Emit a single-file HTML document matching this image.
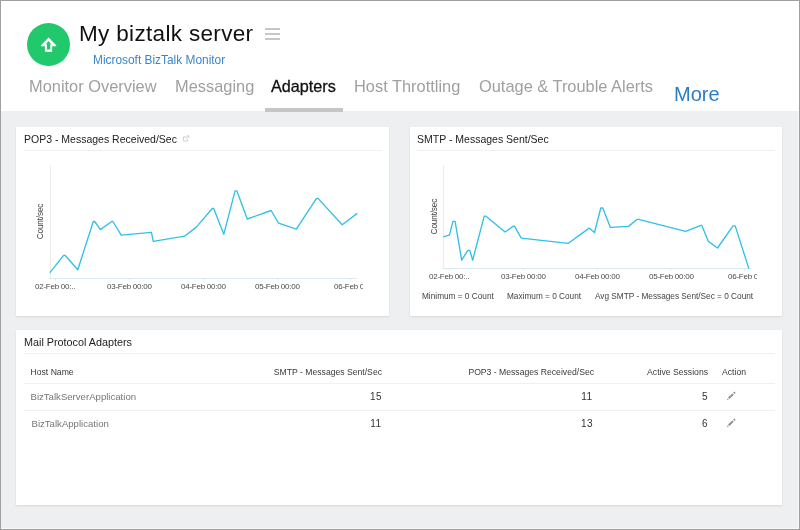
<!DOCTYPE html>
<html>
<head>
<meta charset="utf-8">
<style>
*{box-sizing:border-box;margin:0;padding:0}
html,body{width:800px;height:530px;overflow:hidden;background:#edeff1;font-family:"Liberation Sans",sans-serif;}
body{position:relative}
.abs{position:absolute;white-space:nowrap;line-height:1}
#frame{position:absolute;left:0;top:0;width:800px;height:530px;border:1px solid #a0a0a0;box-shadow:inset -1px -1px 0 rgba(255,255,255,0.55);pointer-events:none;z-index:10}
#hdr{position:absolute;left:0;top:0;width:800px;height:111px;background:#fff}
#circle{position:absolute;left:27px;top:23px;width:43px;height:43.4px;border-radius:50%;background:#22c96c}
#title{left:79px;top:22.6px;font-size:22.5px;color:#111;letter-spacing:0.33px}
#sub{left:93px;top:55px;font-size:11.9px;color:#3a86c8}
.tab{font-size:16.4px;color:#a0a0a0;top:77.5px}
#tabA{color:#111;-webkit-text-stroke:0.3px #111;font-size:16.2px}
#more{left:674px;top:84px;font-size:20px;color:#2e7cc4}
#ubar{position:absolute;left:264.8px;top:108px;width:78.1px;height:3.7px;background:#c5c5c5}
.card{position:absolute;background:#fff;box-shadow:0 1px 2px rgba(0,0,0,0.10)}
.ctitle{font-size:10.5px;color:#222}
.cdiv{position:absolute;height:1px;background:#f0f0f0}
.xl{font-size:8px;color:#4a4a4a;letter-spacing:-0.25px}
.lg{font-size:8.25px;color:#444}
.th{font-size:8.65px;color:#3a3a3a}
.td{font-size:9.6px;color:#777}
.num{font-size:10px;color:#333;letter-spacing:0.4px}
</style>
</head>
<body>
<div id="root" style="position:absolute;left:0;top:0;width:800px;height:530px;will-change:transform">
<div id="hdr"></div>
<div id="circle"></div>
<div id="title" class="abs">My biztalk server</div>
<div class="abs" style="left:264.6px;top:27.8px;width:15.1px;height:2px;background:#c6c6c6"></div>
<div class="abs" style="left:264.6px;top:32.8px;width:15.1px;height:2px;background:#c6c6c6"></div>
<div class="abs" style="left:264.6px;top:37.9px;width:15.1px;height:2px;background:#c6c6c6"></div>
<div id="sub" class="abs">Microsoft BizTalk Monitor</div>
<div class="abs tab" style="left:29px">Monitor Overview</div>
<div class="abs tab" style="left:175px">Messaging</div>
<div class="abs tab" id="tabA" style="left:271px">Adapters</div>
<div class="abs tab" style="left:354px">Host Throttling</div>
<div class="abs tab" style="left:479px">Outage &amp; Trouble Alerts</div>
<div id="more" class="abs">More</div>
<div id="ubar"></div>

<!-- card 1 -->
<div class="card" style="left:16px;top:127px;width:373px;height:189px"></div>
<div class="abs ctitle" style="left:24px;top:134px">POP3 - Messages Received/Sec</div>
<div class="cdiv" style="left:24px;top:150px;width:358px"></div>
<!-- card 2 -->
<div class="card" style="left:410px;top:127px;width:372px;height:189px"></div>
<div class="abs ctitle" style="left:417px;top:134px">SMTP - Messages Sent/Sec</div>
<div class="cdiv" style="left:417px;top:150px;width:358px"></div>
<!-- card 3 -->
<div class="card" style="left:16px;top:330px;width:766px;height:175px"></div>
<div class="abs ctitle" style="left:24px;top:337px;font-size:10.8px">Mail Protocol Adapters</div>
<div class="cdiv" style="left:24px;top:353px;width:751px"></div>

<svg class="abs" style="left:0;top:0" width="800" height="530" viewBox="0 0 800 530">
<g fill="none" stroke-width="1">
<path d="M50.5 165 V278" stroke="#ececec"/>
<path d="M49 278.5 H357" stroke="#d9eaf5"/>
<path d="M55.5 279 v1.5 M129.5 279 v1.5 M203.5 279 v1.5 M277.5 279 v1.5 M350.5 279 v1.5" stroke="#dfe9f0"/>
<path d="M443.5 165 V268" stroke="#ececec"/>
<path d="M442 268.5 H751" stroke="#d9eaf5"/>
<path d="M449.5 269 v1.5 M523.5 269 v1.5 M597.5 269 v1.5 M670.5 269 v1.5 M744.5 269 v1.5" stroke="#dfe9f0"/>
</g>
<g font-family="Liberation Sans, sans-serif" font-size="8.3" letter-spacing="-0.2" fill="#444" text-anchor="middle">
<text transform="translate(43.3,221.5) rotate(-90)">Count/sec</text>
<text transform="translate(437.2,216.6) rotate(-90)">Count/sec</text>
</g>
<g fill="none" stroke="#c9c9c9" stroke-width="0.9">
<path d="M186.4 136.9 H183.5 V141 H187.6 V139.2"/>
<path d="M185.6 139 L188.6 136 M186.8 135.8 H188.8 V137.8"/>
</g>
<g fill="none" stroke="#8c8c8c" stroke-width="1.9">
<path d="M728.7 398.3 L733.1 394.1 M733.9 393.3 L735 392.3"/>
<path d="M728.7 425.3 L733.1 421.1 M733.9 420.3 L735 419.3"/>
</g>
<path d="M48.6 37.6 L56.2 45.2 L56.2 46.3 L52.2 46.3 L52.2 51.7 L44.9 51.7 L44.9 46.3 L41 46.3 L41 45.2 Z" fill="#fff"/>
<path d="M48.55 41 L51.3 44.2 L50.2 44.2 L50.2 49.5 L46.9 49.5 L46.9 44.2 L45.8 44.2 Z" fill="#22c96c"/>
<g fill="#8c8c8c">
<path d="M727 400.2 L727.6 398.4 L728.8 399.6 Z"/>
<path d="M727 427.2 L727.6 425.4 L728.8 426.6 Z"/>
</g>
<g fill="none" stroke="#33c0e8" stroke-width="1.35" stroke-linejoin="round" stroke-linecap="round">
<path d="M50.1 272.3 L63.6 255.3 L65 255.3 L77.8 269.8 L93.3 221.5 L94.7 221.5 L100.4 229.6 L111.7 221.5 L112.9 221.5 L121.2 235.2 L151.4 232.3 L153.3 241.4 L184.5 236.2 L196.3 227.1 L212.3 208.5 L213.7 208.5 L223.8 234.2 L235.1 190.8 L236.8 190.8 L247.3 219 L271.1 210.5 L278.5 223.2 L296.4 229.1 L316.5 198.4 L318 198.4 L342.2 224.7 L356.9 213.6"/>
<path d="M443.8 236.7 L449.4 235.2 L452.9 221.3 L455.1 221.3 L461.7 260.2 L467.8 250.4 L469.8 250.4 L472.7 260.2 L484.2 216.1 L485.7 216.1 L505.1 232 L513.2 226.2 L514.4 226.2 L521.3 238.2 L568.4 243.3 L589.2 228.1 L594.5 232.5 L600.8 208 L602.8 208 L610.4 227.4 L628.5 226.4 L637.3 219.3 L638.6 219.3 L685.6 231.3 L700.8 225.4 L701.8 225.4 L708.4 241.4 L717.5 248 L733 225.9 L735.2 225.9 L748.7 268.1"/>
</g>
</svg>


<div class="abs xl" style="left:35px;top:283.3px">02-Feb 00:..</div>
<div class="abs xl" style="left:107px;top:283.3px">03-Feb 00:00</div>
<div class="abs xl" style="left:181px;top:283.3px">04-Feb 00:00</div>
<div class="abs xl" style="left:255px;top:283.3px">05-Feb 00:00</div>
<div class="abs xl" style="left:334px;top:283.3px;width:29px;overflow:hidden">06-Feb 00:00</div>

<div class="abs xl" style="left:429px;top:272.6px">02-Feb 00:..</div>
<div class="abs xl" style="left:501px;top:272.6px">03-Feb 00:00</div>
<div class="abs xl" style="left:575px;top:272.6px">04-Feb 00:00</div>
<div class="abs xl" style="left:649px;top:272.6px">05-Feb 00:00</div>
<div class="abs xl" style="left:728px;top:272.6px;width:29px;overflow:hidden">06-Feb 00:00</div>

<div class="abs lg" style="left:422px;top:293px">Minimum = 0 Count</div>
<div class="abs lg" style="left:507px;top:293px">Maximum = 0 Count</div>
<div class="abs lg" style="left:595px;top:293px">Avg SMTP - Messages Sent/Sec = 0 Count</div>

<!-- table -->
<div class="abs th" style="left:30.5px;top:368px">Host Name</div>
<div class="abs th" style="right:418px;top:368px">SMTP - Messages Sent/Sec</div>
<div class="abs th" style="right:206px;top:368px">POP3 - Messages Received/Sec</div>
<div class="abs th" style="right:92px;top:368px">Active Sessions</div>
<div class="abs th" style="left:722px;top:368px">Action</div>
<div class="cdiv" style="left:24px;top:383px;width:751px"></div>
<div class="abs td" style="left:30.5px;top:391.5px">BizTalkServerApplication</div>
<div class="abs num" style="right:418px;top:392px">15</div>
<div class="abs num" style="right:207.5px;top:392px">11</div>
<div class="abs num" style="right:92px;top:392px">5</div>
<div class="cdiv" style="left:24px;top:410px;width:751px"></div>
<div class="abs td" style="left:31.5px;top:418.5px">BizTalkApplication</div>
<div class="abs num" style="right:418.5px;top:419px">11</div>
<div class="abs num" style="right:207px;top:419px">13</div>
<div class="abs num" style="right:92px;top:419px">6</div>

<div id="frame"></div>
</div>
</body>
</html>
